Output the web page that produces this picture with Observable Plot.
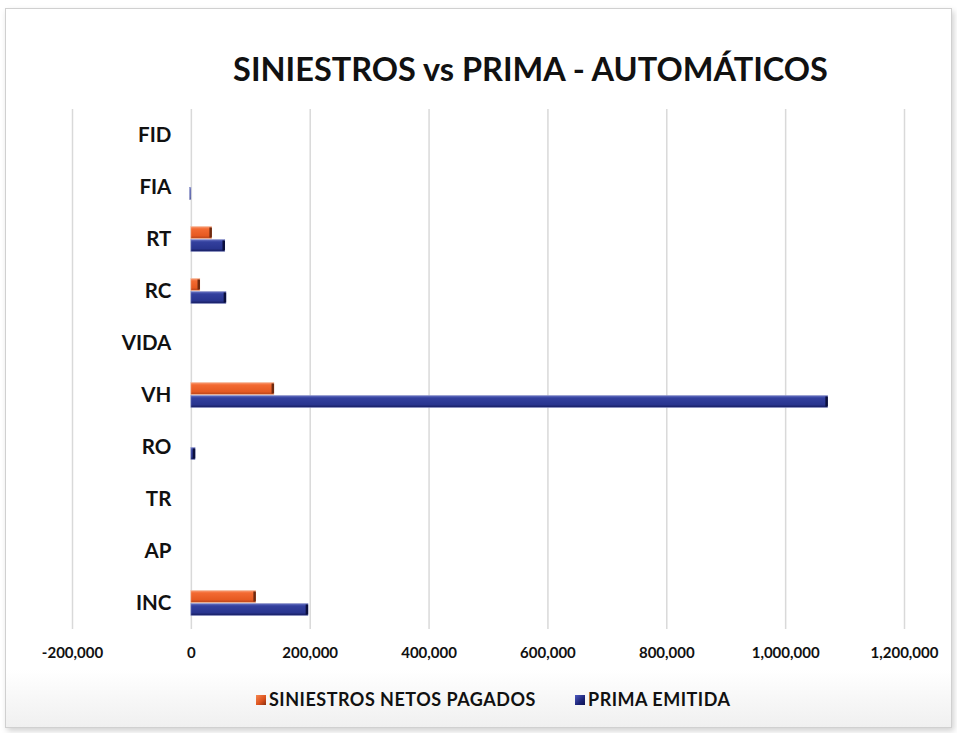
<!DOCTYPE html>
<html>
<head>
<meta charset="utf-8">
<script src="https://cdn.jsdelivr.net/npm/d3@7"></script>
<script src="https://cdn.jsdelivr.net/npm/@observablehq/plot@0.6"></script>
<style>
  html, body { margin: 0; padding: 0; background: #ffffff; }
  body { width: 957px; height: 733px; position: relative; overflow: hidden; font-family: Lato, "Noto Sans", sans-serif; }
  #frame { position: absolute; left: 5px; top: 8px; width: 945px; height: 718px; border: 1px solid #d0d0d0;
           background: linear-gradient(to bottom, #ffffff 0%, #ffffff 92%, #f0f0f0 100%);
           box-shadow: 2px 3px 6px rgba(0,0,0,0.18); }
  #title { position: absolute; left: 0; width: 957px; top: 49px; text-align: center; padding-left: 104px; box-sizing: border-box;
           font-weight: 700; font-size: 32.5px; color: #111; letter-spacing: 0px; }
  #chart { position: absolute; left: 0; top: 0; }
  #legend { position: absolute; top: 688px; left: 0; width: 957px; font-weight: 700; font-size: 18px; letter-spacing: 0.5px; color: #111; }
  .item { position: absolute; top: 0; white-space: nowrap; }
  .sw { display: inline-block; width: 10px; height: 10px; margin-right: 3px; vertical-align: 1px; }
</style>
</head>
<body>
<div id="frame"></div>
<div id="title">SINIESTROS vs PRIMA - AUTOMÁTICOS</div>
<div id="chart"></div>
<div id="legend">
  <div class="item" id="l1" style="left:256px"><span class="sw" style="background:linear-gradient(135deg,#f7864f,#d9501c 60%,#8a2f10)"></span>SINIESTROS NETOS PAGADOS</div>
  <div class="item" id="l2" style="left:575px"><span class="sw" style="background:linear-gradient(135deg,#4f5bc0,#1c2478 60%,#0d1250)"></span>PRIMA EMITIDA</div>
</div>
<script>
const categories = ["FID", "FIA", "RT", "RC", "VIDA", "VH", "RO", "TR", "AP", "INC"];
const seriesNames = ["SINIESTROS NETOS PAGADOS", "PRIMA EMITIDA"];
const siniestros = [0, 0, 35000, 15000, 0, 139600, 0, 0, 0, 109000];
const prima = [0, -2000, 57000, 59000, 0, 1071500, 7000, 0, 0, 197000];
const xTicks = [-200000, 0, 200000, 400000, 600000, 800000, 1000000, 1200000];

const rows = categories.flatMap((c, i) => [
  {cat: c, serie: seriesNames[0], value: siniestros[i]},
  {cat: c, serie: seriesNames[1], value: prima[i]}
]);
const nonZero = rows.filter(d => d.value !== 0);
const fmt = d => d3.format(",")(d).replace("\u2212", "-");

const chart = Plot.plot({
  width: 957,
  height: 680,
  marginLeft: 72,
  marginRight: 53,
  marginTop: 107,
  marginBottom: 50,
  style: {fontFamily: "Lato, 'Noto Sans', sans-serif", background: "transparent", color: "#111"},
  x: {domain: [-200000, 1200000], ticks: xTicks, tickFormat: fmt, tickSize: 0, tickPadding: 18, label: null},
  fy: {domain: categories, padding: 0, axis: null, label: null},
  y: {domain: seriesNames, paddingInner: 0, paddingOuter: 1, axis: null, label: null},
  marks: [
    Plot.gridX(xTicks, {stroke: "#d9d9d9", strokeOpacity: 1, strokeWidth: 1.5}),
    Plot.barX(nonZero, {
      fy: "cat", y: "serie", x: "value",
      fill: d => d.serie === seriesNames[0] ? "url(#gradOrange)" : "url(#gradBlue)",
      stroke: d => d.serie === seriesNames[0] ? "#f3b79a" : "#8c93c8",
      strokeWidth: 0.6,
      insetTop: 0.5, insetBottom: 0.5
    }),
    Plot.tickX(nonZero.filter(d => d.value > 0), {
      fy: "cat", y: "serie", x: "value", dx: -1.5,
      stroke: d => d.serie === seriesNames[0] ? "#6e2a10" : "#0b0f3c",
      strokeWidth: 2.5, insetTop: 1.5, insetBottom: 1.5
    }),
    Plot.text(categories, {fy: d => d, x: 0, dx: -20, text: d => d, textAnchor: "end",
      fontSize: 20.5, fontWeight: 700, fill: "#111"})
  ]
});

// bevel-like gradients for the bars
const ns = "http://www.w3.org/2000/svg";
const defs = document.createElementNS(ns, "defs");
defs.innerHTML = `
  <linearGradient id="gradOrange" x1="0" y1="0" x2="0" y2="1">
    <stop offset="0" stop-color="#f9a07a"/>
    <stop offset="0.2" stop-color="#f36a32"/>
    <stop offset="0.75" stop-color="#e65a22"/>
    <stop offset="1" stop-color="#b8441a"/>
  </linearGradient>
  <linearGradient id="gradBlue" x1="0" y1="0" x2="0" y2="1">
    <stop offset="0" stop-color="#6a74c4"/>
    <stop offset="0.2" stop-color="#33409e"/>
    <stop offset="0.75" stop-color="#29358f"/>
    <stop offset="1" stop-color="#161d5e"/>
  </linearGradient>`;
chart.insertBefore(defs, chart.firstChild);
chart.querySelectorAll("[aria-label='x-axis tick label'] text, [aria-label='x-axis tick label']").forEach(el => {
  el.style.fontSize = "15px"; el.style.fontWeight = "700";
});
document.getElementById("chart").appendChild(chart);
</script>
</body>
</html>
